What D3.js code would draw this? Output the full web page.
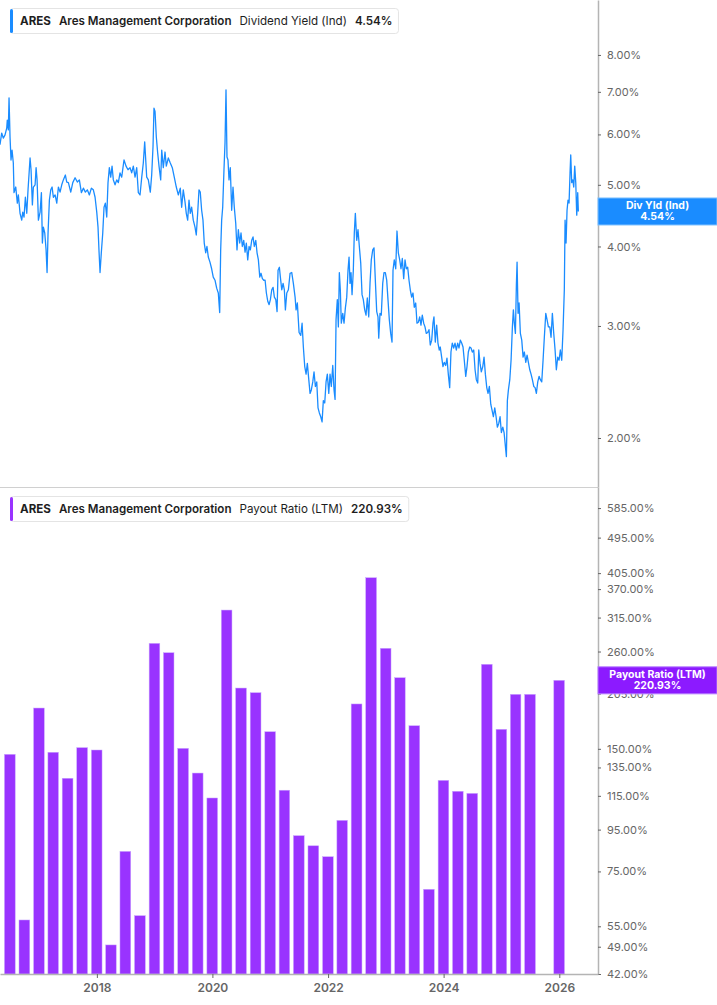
<!DOCTYPE html>
<html lang="en">
<head>
<meta charset="UTF-8">
<title>ARES Dividend Yield and Payout Ratio</title>
<script src="https://cdn.jsdelivr.net/npm/d3@7"></script>
<style>
  body { margin: 0; background: #fff; }
  svg { display: block; font-family: Inter, "Noto Sans", sans-serif; }
</style>
</head>
<body>
<svg id="chart" width="717" height="1005"></svg>
<script>
// dividend yield (Ind), % -- [decimal year, value]
const yieldPoints = [
  [2016.325,5.78],[2016.354,6.03],[2016.382,5.92],[2016.412,5.99],[2016.441,6.14],[2016.451,6.32],[2016.469,6.10],[2016.481,6.85],
  [2016.498,5.95],[2016.515,5.47],[2016.533,5.67],[2016.555,5.41],[2016.567,4.86],[2016.597,4.96],[2016.624,4.68],[2016.642,4.82],
  [2016.671,4.51],[2016.700,4.40],[2016.718,4.53],[2016.740,4.45],[2016.763,4.78],[2016.787,4.51],[2016.809,4.91],[2016.844,5.51],
  [2016.861,5.28],[2016.884,4.65],[2016.901,4.96],[2016.931,5.00],[2016.948,5.32],[2016.965,5.09],[2016.988,4.40],[2017.017,4.53],
  [2017.040,4.86],[2017.057,4.05],[2017.074,4.29],[2017.098,4.20],[2017.121,3.95],[2017.138,3.64],[2017.155,4.20],[2017.178,4.73],
  [2017.202,4.91],[2017.225,4.96],[2017.247,4.78],[2017.277,4.82],[2017.306,4.68],[2017.334,4.96],[2017.363,4.87],[2017.392,5.00],
  [2017.420,5.09],[2017.455,5.18],[2017.479,5.05],[2017.507,5.04],[2017.548,4.87],[2017.583,5.04],[2017.623,5.13],[2017.662,5.05],
  [2017.697,5.09],[2017.732,4.86],[2017.766,4.94],[2017.801,4.87],[2017.835,4.91],[2017.870,4.82],[2017.905,4.94],[2017.939,4.91],
  [2017.969,4.78],[2017.998,4.53],[2018.020,4.29],[2018.038,3.92],[2018.055,3.64],[2018.077,3.91],[2018.102,4.20],[2018.124,4.61],
  [2018.147,4.68],[2018.171,4.45],[2018.193,5.04],[2018.216,5.32],[2018.240,5.14],[2018.263,5.35],[2018.285,5.09],[2018.315,5.00],
  [2018.344,5.09],[2018.372,5.04],[2018.401,5.22],[2018.430,5.14],[2018.470,5.47],[2018.505,5.35],[2018.539,5.28],[2018.574,5.32],
  [2018.603,5.22],[2018.631,5.35],[2018.661,5.14],[2018.690,5.32],[2018.718,4.86],[2018.747,4.82],[2018.777,5.14],[2018.804,5.41],
  [2018.828,5.84],[2018.863,5.14],[2018.891,5.09],[2018.925,4.87],[2018.949,5.18],[2018.972,5.74],[2018.989,6.60],[2019.007,6.52],
  [2019.029,5.95],[2019.053,5.61],[2019.076,5.35],[2019.105,5.09],[2019.123,5.67],[2019.150,5.32],[2019.180,5.63],[2019.202,5.35],
  [2019.237,5.51],[2019.271,5.41],[2019.306,5.32],[2019.340,5.14],[2019.375,4.96],[2019.410,4.82],[2019.444,4.94],[2019.468,4.61],
  [2019.496,4.91],[2019.526,4.70],[2019.548,4.51],[2019.572,4.40],[2019.595,4.73],[2019.617,4.51],[2019.641,4.61],[2019.669,4.40],
  [2019.699,4.29],[2019.721,4.17],[2019.745,4.51],[2019.768,4.91],[2019.790,4.87],[2019.814,4.56],[2019.837,4.40],[2019.859,4.05],
  [2019.884,3.91],[2019.906,4.00],[2019.929,3.85],[2019.958,3.78],[2019.987,3.69],[2020.015,3.58],[2020.045,3.54],[2020.074,3.44],
  [2020.102,3.38],[2020.126,3.15],[2020.143,3.95],[2020.160,4.40],[2020.178,4.61],[2020.200,5.28],[2020.218,5.82],[2020.235,7.05],
  [2020.252,5.53],[2020.269,5.47],[2020.287,5.09],[2020.309,5.32],[2020.333,4.56],[2020.356,4.96],[2020.378,4.61],[2020.403,4.35],
  [2020.425,3.95],[2020.448,4.25],[2020.472,4.05],[2020.494,4.20],[2020.517,4.00],[2020.541,4.09],[2020.564,3.92],[2020.586,4.05],
  [2020.610,3.81],[2020.633,4.00],[2020.655,3.95],[2020.679,4.09],[2020.702,4.14],[2020.724,4.00],[2020.749,4.09],[2020.771,3.91],
  [2020.794,3.81],[2020.818,3.58],[2020.840,3.63],[2020.863,3.56],[2020.887,3.54],[2020.910,3.54],[2020.932,3.38],[2020.956,3.28],
  [2020.979,3.24],[2021.001,3.30],[2021.025,3.42],[2021.048,3.45],[2021.070,3.33],[2021.095,3.30],[2021.117,3.16],[2021.134,3.67],
  [2021.157,3.71],[2021.174,3.58],[2021.198,3.42],[2021.221,3.50],[2021.243,3.42],[2021.261,3.18],[2021.285,3.38],[2021.313,3.42],
  [2021.342,3.63],[2021.371,3.64],[2021.399,3.50],[2021.429,3.33],[2021.446,3.18],[2021.468,3.26],[2021.498,2.93],[2021.527,2.90],
  [2021.550,3.03],[2021.572,2.78],[2021.596,2.59],[2021.619,2.52],[2021.641,2.62],[2021.666,2.47],[2021.688,2.35],[2021.710,2.38],
  [2021.735,2.45],[2021.757,2.54],[2021.780,2.41],[2021.804,2.45],[2021.826,2.23],[2021.849,2.19],[2021.873,2.16],[2021.896,2.12],
  [2021.918,2.29],[2021.942,2.27],[2021.965,2.45],[2021.987,2.52],[2022.012,2.35],[2022.034,2.52],[2022.056,2.41],[2022.081,2.60],
  [2022.103,2.38],[2022.121,2.30],[2022.138,3.07],[2022.160,3.30],[2022.178,2.99],[2022.195,3.64],[2022.212,3.42],[2022.229,3.03],
  [2022.254,3.14],[2022.276,3.03],[2022.299,3.20],[2022.323,3.33],[2022.345,3.67],[2022.363,3.85],[2022.380,3.50],[2022.397,3.64],
  [2022.415,3.36],[2022.437,3.67],[2022.454,4.20],[2022.472,4.51],[2022.496,4.09],[2022.518,4.25],[2022.541,4.00],[2022.565,3.77],
  [2022.588,3.36],[2022.610,3.30],[2022.634,3.18],[2022.657,3.12],[2022.679,3.32],[2022.704,3.10],[2022.726,3.50],[2022.748,3.81],
  [2022.773,3.95],[2022.795,3.98],[2022.818,3.54],[2022.842,3.16],[2022.864,3.10],[2022.877,2.87],[2022.899,3.14],[2022.921,3.12],
  [2022.946,3.50],[2022.968,3.64],[2022.991,3.64],[2023.015,3.54],[2023.037,3.30],[2023.060,3.07],[2023.084,2.92],[2023.107,2.83],
  [2023.124,3.67],[2023.146,3.81],[2023.171,3.69],[2023.193,4.23],[2023.216,3.91],[2023.240,3.81],[2023.262,3.69],[2023.285,3.83],
  [2023.309,3.56],[2023.332,3.81],[2023.354,3.69],[2023.378,3.71],[2023.401,3.54],[2023.423,3.42],[2023.447,3.33],[2023.470,3.38],
  [2023.492,3.21],[2023.517,3.26],[2023.539,3.03],[2023.562,3.04],[2023.586,3.10],[2023.608,3.01],[2023.631,3.12],[2023.655,3.03],
  [2023.678,2.99],[2023.700,2.92],[2023.724,2.93],[2023.747,2.96],[2023.769,2.80],[2023.794,2.85],[2023.816,3.03],[2023.833,3.10],
  [2023.856,2.83],[2023.880,3.01],[2023.902,2.82],[2023.925,2.75],[2023.942,2.78],[2023.966,2.68],[2023.989,2.59],[2024.011,2.63],
  [2024.036,2.60],[2024.058,2.67],[2024.081,2.52],[2024.105,2.40],[2024.127,2.73],[2024.150,2.82],[2024.174,2.77],[2024.197,2.82],
  [2024.219,2.75],[2024.243,2.82],[2024.266,2.77],[2024.288,2.85],[2024.312,2.82],[2024.335,2.78],[2024.357,2.65],[2024.382,2.50],
  [2024.404,2.59],[2024.427,2.73],[2024.451,2.78],[2024.473,2.77],[2024.496,2.73],[2024.520,2.75],[2024.543,2.56],[2024.565,2.47],
  [2024.589,2.44],[2024.607,2.75],[2024.629,2.62],[2024.651,2.54],[2024.676,2.59],[2024.698,2.68],[2024.721,2.52],[2024.745,2.40],
  [2024.767,2.35],[2024.790,2.41],[2024.814,2.26],[2024.837,2.21],[2024.859,2.16],[2024.883,2.23],[2024.906,2.16],[2024.928,2.08],
  [2024.953,2.11],[2024.975,2.16],[2024.997,2.04],[2025.022,2.08],[2025.044,2.04],[2025.067,1.94],[2025.084,1.87],[2025.101,2.29],
  [2025.119,2.38],[2025.143,2.47],[2025.165,2.65],[2025.188,2.99],[2025.205,3.18],[2025.222,3.03],[2025.240,2.92],[2025.257,3.48],
  [2025.269,3.78],[2025.286,3.14],[2025.304,3.26],[2025.326,2.92],[2025.350,2.85],[2025.373,2.68],[2025.395,2.73],[2025.420,2.63],
  [2025.442,2.70],[2025.465,2.63],[2025.489,2.56],[2025.511,2.52],[2025.534,2.47],[2025.558,2.41],[2025.581,2.40],[2025.603,2.35],
  [2025.627,2.45],[2025.650,2.50],[2025.672,2.47],[2025.696,2.45],[2025.719,2.65],[2025.741,2.88],[2025.766,3.14],[2025.788,3.07],
  [2025.811,2.99],[2025.835,2.99],[2025.857,2.88],[2025.880,3.14],[2025.904,2.92],[2025.927,2.75],[2025.949,2.56],[2025.973,2.68],
  [2025.996,2.65],[2026.018,2.75],[2026.042,2.65],[2026.065,2.96],[2026.087,3.42],[2026.100,4.40],[2026.117,4.05],[2026.134,4.56],
  [2026.151,4.73],[2026.169,4.68],[2026.186,5.22],[2026.198,5.57],[2026.215,5.04],[2026.233,5.09],[2026.250,4.96],[2026.267,5.35],
  [2026.285,5.04],[2026.302,4.48],[2026.319,4.86],[2026.330,4.54]
];

// payout ratio (LTM), % -- quarter ends
const payoutDates = [
  "2016-06-30","2016-09-30","2016-12-31",
  "2017-03-31","2017-06-30","2017-09-30","2017-12-31",
  "2018-03-31","2018-06-30","2018-09-30","2018-12-31",
  "2019-03-31","2019-06-30","2019-09-30","2019-12-31",
  "2020-03-31","2020-06-30","2020-09-30","2020-12-31",
  "2021-03-31","2021-06-30","2021-09-30","2021-12-31",
  "2022-03-31","2022-06-30","2022-09-30","2022-12-31",
  "2023-03-31","2023-06-30","2023-09-30","2023-12-31",
  "2024-03-31","2024-06-30","2024-09-30","2024-12-31",
  "2025-03-31","2025-06-30","2025-09-30","2025-12-31"
];
const payoutValues = [
  145.4, 57.0, 188.9,
  147.1, 127.0, 151.0, 149.0,
  49.5, 84.0, 58.4, 272.3,
  258.2, 150.4, 130.8, 113.6,
  328.7, 211.5, 206.0, 165.2,
  118.7, 91.8, 86.7, 81.5,
  100.1, 193.3, 394.6, 264.8,
  224.2, 170.9, 67.8, 125.5,
  118.0, 116.6, 241.9, 167.5,
  204.1, 204.1, null, 220.93
];

const yieldTicks = [2, 3, 4, 5, 6, 7, 8];
const payoutTicks = [42, 49, 55, 75, 95, 115, 135, 150, 205, 260, 315, 370, 405, 495, 585];
const yearTicks = [2018, 2020, 2022, 2024, 2026];

const ticker = "ARES";
const company = "Ares Management Corporation";
const yieldName = "Dividend Yield (Ind)";
const payoutName = "Payout Ratio (LTM)";
const lastYield = 4.54;
const lastPayout = 220.93;

const blue = "#1a8cff";
const purple = "#9933ff";

const fromDecimal = t => {
  const yr = Math.floor(t);
  const a = new Date(yr, 0, 1), b = new Date(yr + 1, 0, 1);
  return new Date(+a + (t - yr) * (b - a));
};
const parseDate = d3.timeParse("%Y-%m-%d");
const pct = d => d.toFixed(2) + "%";

const svg = d3.select("#chart");
const plotRight = 598, splitY = 487, bottomY = 974;

const x = d3.scaleTime()
  .domain([fromDecimal(2016.325), fromDecimal(2026.67)])
  .range([0, plotRight]);
const yTop = d3.scaleLog().domain([1.675, 9.76]).range([splitY, 0]);
const yBot = d3.scaleLog().domain([42, 659]).range([bottomY, splitY]);

// separator between panes
svg.append("line")
  .attr("x1", 0).attr("x2", plotRight)
  .attr("y1", splitY + 0.5).attr("y2", splitY + 0.5)
  .attr("stroke", "#d0d0d0");

// yield line
const line = d3.line()
  .x(d => x(fromDecimal(d[0])))
  .y(d => yTop(d[1]));

svg.append("path")
  .datum(yieldPoints)
  .attr("d", line)
  .attr("fill", "none")
  .attr("stroke", blue)
  .attr("stroke-width", 1.3)
  .attr("stroke-linejoin", "round");

// payout bars
const bars = payoutDates
  .map((d, i) => ({ date: parseDate(d), value: payoutValues[i] }))
  .filter(d => d.value != null);

svg.append("g")
  .selectAll("rect")
  .data(bars)
  .enter()
  .append("rect")
  .each(function (d) {
    const w = (x(d.date) - x(d3.timeMonth.offset(d.date, -3))) * 0.74;
    d3.select(this)
      .attr("x", x(d.date) - w / 2)
      .attr("width", w)
      .attr("y", yBot(d.value))
      .attr("height", yBot.range()[0] - yBot(d.value));
  })
  .attr("fill", purple)
  .attr("stroke", "#c9a6ff")
  .attr("stroke-width", 0.5);

// axes
function styleAxis(g) {
  g.select(".domain").attr("stroke", "#b4b4b4").attr("stroke-width", 1.5);
  g.selectAll(".tick line").attr("stroke", "#666");
  g.selectAll(".tick text")
    .attr("fill", "#666")
    .attr("font-family", "Inter, sans-serif");
}

svg.append("g")
  .attr("transform", `translate(${plotRight},0)`)
  .call(d3.axisRight(yTop).tickValues(yieldTicks).tickFormat(pct).tickSize(3).tickSizeOuter(0).tickPadding(6))
  .call(styleAxis)
  .selectAll(".tick text").attr("font-size", 11);

svg.append("g")
  .attr("transform", `translate(${plotRight},0)`)
  .call(d3.axisRight(yBot).tickValues(payoutTicks).tickFormat(pct).tickSize(3).tickSizeOuter(0).tickPadding(6))
  .call(styleAxis)
  .selectAll(".tick text").attr("font-size", 11);

svg.append("g")
  .attr("transform", `translate(0,${bottomY})`)
  .call(d3.axisBottom(x).tickValues(yearTicks.map(y => new Date(y, 0, 1))).tickFormat(d3.timeFormat("%Y")).tickSize(4).tickSizeOuter(0).tickPadding(5))
  .call(styleAxis)
  .selectAll(".tick text").attr("font-size", 12).attr("font-weight", 600);

// last-value tags on the right axis
function tag(y, color, edge, name, value) {
  const g = svg.append("g").attr("transform", `translate(${plotRight},${y})`);
  g.append("rect")
    .attr("x", 0).attr("y", -13.5)
    .attr("width", 717 - plotRight).attr("height", 27)
    .attr("fill", color).attr("stroke", edge).attr("stroke-width", 1);
  g.append("text")
    .attr("x", (717 - plotRight) / 2).attr("y", -2)
    .attr("text-anchor", "middle").attr("fill", "#fff")
    .attr("font-size", 10.5).attr("font-weight", 700)
    .text(name);
  g.append("text")
    .attr("x", (717 - plotRight) / 2).attr("y", 9)
    .attr("text-anchor", "middle").attr("fill", "#fff")
    .attr("font-size", 10.5).attr("font-weight", 700)
    .text(value);
}
tag(yTop(lastYield), blue, "#7cc0ff", "Div Yld (Ind)", pct(lastYield));
tag(yBot(lastPayout), "#8c1aff", "#b57bff", "Payout Ratio (LTM)", pct(lastPayout));

// legends
function legend(top, color, parts) {
  const g = svg.append("g");
  const box = g.append("rect")
    .attr("x", 10.5).attr("y", top + 0.5).attr("height", 25).attr("rx", 3)
    .attr("fill", "#fff").attr("stroke", "#e4e4e4");
  g.append("rect")
    .attr("x", 10).attr("y", top + 1).attr("width", 3).attr("height", 24).attr("rx", 1.5)
    .attr("fill", color);
  let cx = 20;
  parts.forEach(p => {
    const t = g.append("text")
      .attr("x", cx).attr("y", top + 17)
      .attr("font-size", 11.6).attr("font-weight", p[1])
      .attr("fill", "#1e1e1e")
      .text(p[0]);
    cx += t.node().getComputedTextLength() + 8;
  });
  box.attr("width", cx - 2 - 10.5);
}
legend(8, blue, [[ticker, 700], [company, 600], [yieldName, 400], [pct(lastYield), 600]]);
legend(496, purple, [[ticker, 700], [company, 600], [payoutName, 400], [pct(lastPayout), 600]]);
</script>
</body>
</html>
